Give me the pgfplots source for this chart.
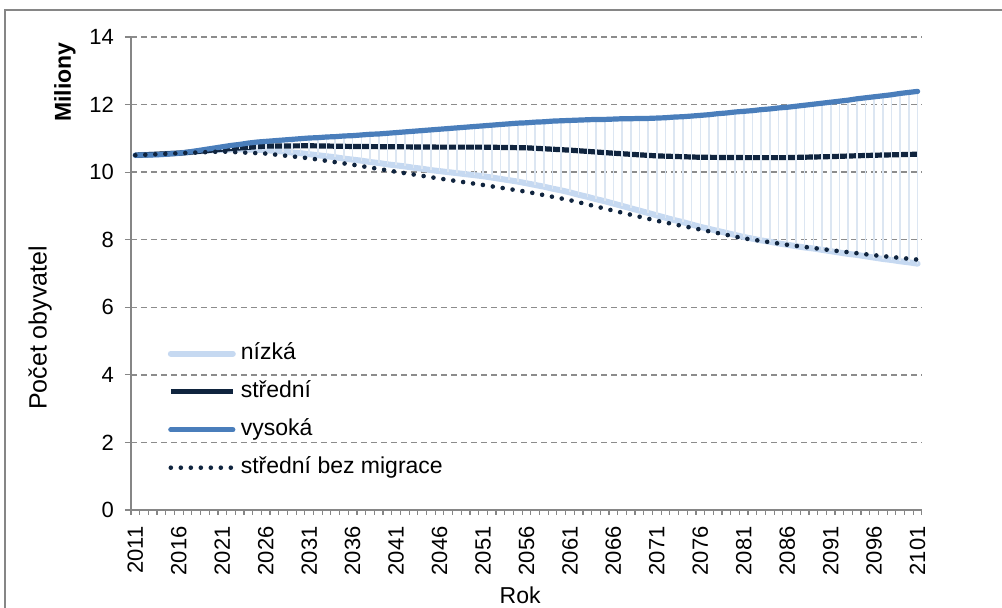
\documentclass[border=0pt]{standalone}
\usepackage{fontspec}
\setmainfont{Liberation Sans}
\usepackage{pgfplots}
\usepackage{pgfplotstable}
\pgfplotsset{compat=1.18}

\definecolor{nizka}{HTML}{C6D9F1}
\definecolor{stredni}{HTML}{10243E}
\definecolor{vysoka}{HTML}{4A7EBB}
\definecolor{hilo}{HTML}{DCE6F2}
\definecolor{axisgray}{HTML}{868686}
\definecolor{gridgray}{HTML}{8C8C8C}

% nízká / vysoká, every year (needed for the high-low lines)
\pgfplotstableread{
year low high
2011 10.50 10.50
2012 10.51 10.51
2013 10.52 10.51
2014 10.53 10.52
2015 10.55 10.54
2016 10.56 10.56
2017 10.58 10.59
2018 10.61 10.63
2019 10.63 10.67
2020 10.65 10.71
2021 10.66 10.75
2022 10.67 10.79
2023 10.67 10.82
2024 10.67 10.86
2025 10.66 10.89
2026 10.65 10.91
2027 10.63 10.93
2028 10.61 10.95
2029 10.58 10.97
2030 10.56 10.99
2031 10.53 11.01
2032 10.50 11.02
2033 10.47 11.04
2034 10.44 11.05
2035 10.40 11.07
2036 10.37 11.08
2037 10.34 11.10
2038 10.30 11.12
2039 10.27 11.13
2040 10.23 11.15
2041 10.20 11.17
2042 10.17 11.19
2043 10.13 11.21
2044 10.10 11.23
2045 10.06 11.25
2046 10.03 11.27
2047 10.00 11.29
2048 9.97 11.31
2049 9.94 11.33
2050 9.91 11.35
2051 9.88 11.37
2052 9.84 11.39
2053 9.80 11.41
2054 9.76 11.43
2055 9.72 11.45
2056 9.67 11.46
2057 9.62 11.48
2058 9.57 11.49
2059 9.51 11.51
2060 9.46 11.52
2061 9.40 11.53
2062 9.33 11.54
2063 9.27 11.55
2064 9.20 11.56
2065 9.14 11.56
2066 9.07 11.57
2067 9.00 11.58
2068 8.93 11.58
2069 8.86 11.59
2070 8.79 11.59
2071 8.72 11.60
2072 8.65 11.61
2073 8.58 11.63
2074 8.52 11.64
2075 8.45 11.66
2076 8.38 11.68
2077 8.32 11.70
2078 8.26 11.73
2079 8.20 11.75
2080 8.14 11.78
2081 8.08 11.80
2082 8.03 11.82
2083 7.98 11.85
2084 7.94 11.87
2085 7.89 11.90
2086 7.85 11.92
2087 7.81 11.95
2088 7.77 11.98
2089 7.74 12.01
2090 7.70 12.04
2091 7.66 12.07
2092 7.62 12.10
2093 7.58 12.13
2094 7.55 12.17
2095 7.51 12.20
2096 7.47 12.23
2097 7.43 12.26
2098 7.40 12.29
2099 7.36 12.33
2100 7.33 12.36
2101 7.29 12.39
}\hilotab

% střední, střední bez migrace
\pgfplotstableread{
year mid nomig
2011 10.50 10.50
2016 10.56 10.56
2021 10.68 10.61
2026 10.77 10.55
2031 10.78 10.41
2036 10.76 10.22
2041 10.75 10.01
2046 10.74 9.81
2051 10.74 9.62
2056 10.72 9.42
2061 10.65 9.17
2066 10.56 8.86
2071 10.48 8.56
2076 10.44 8.30
2081 10.43 8.04
2086 10.43 7.85
2091 10.46 7.69
2096 10.50 7.54
2101 10.53 7.41
}\midtab

\begin{document}
\fontsize{11.5}{13.5}\selectfont
\begin{tikzpicture}
\begin{axis}[
  scale only axis, width=395.5pt, height=236.5pt,
  xmin=2010.5, xmax=2101.5, ymin=0, ymax=14,
  axis x line*=bottom, axis y line*=left,
  axis line style={axisgray, line width=0.75pt},
  xtick={2011,2016,...,2101},
  minor xtick={2010.5,2011.5,...,2101.5},
  ytick={0,2,...,14},
  tick align=outside,
  major tick length=3pt, minor tick length=2.5pt,
  tick style={axisgray, line width=0.6pt},
  major x tick style={draw=none},
  ymajorgrids, grid style={gridgray, line width=0.7pt, dash pattern=on 3pt off 2pt},
  /pgf/number format/assume math mode=true,
  /pgf/number format/1000 sep={},
  tick label style={font=\fontsize{11}{13}\selectfont},
  xticklabel style={rotate=90, anchor=east, inner xsep=5pt, inner ysep=0pt},
  yticklabel style={anchor=east, xshift=-1.5pt},
  xlabel={Rok}, ylabel={Počet obyvatel},
  every axis x label/.style={at={(axis description cs:0.492,0)}, yshift=-42.5pt, anchor=center},
  every axis y label/.style={at={(axis description cs:-0.115,0.385)}, rotate=90, anchor=center,
    font=\fontsize{12.5}{14}\selectfont},
  legend cell align=left,
  legend image code/.code={\draw[#1] (0pt,0pt) -- (31pt,0pt);},
  legend style={draw=none, fill=none, at={(axis cs:2014.0,5.2)}, anchor=north west,
    row sep=4pt, column sep=1.5pt,
    nodes={inner xsep=1pt, inner ysep=2pt, text height=8.5pt, text depth=2.5pt}},
  line join=round,
]
\addplot[nizka, line width=3pt, line cap=round] table[x=year, y=low]{\hilotab};
\addlegendentry{nízká}
\addplot[stredni, line width=2.6pt] table[x=year, y=mid]{\midtab};
\addlegendentry{střední}
\addplot[forget plot, draw=none, mark=none,
  error bars/.cd, y dir=plus, y explicit, error mark=none,
  error bar style={draw=hilo, line width=0.8pt}]
  table[x=year, y=low, y error expr=\thisrow{high}-\thisrow{low}]{\hilotab};
\addplot[vysoka, line width=2.6pt, line cap=round] table[x=year, y=high]{\hilotab};
\addlegendentry{vysoká}
\addplot[stredni, line width=2.3pt, line cap=round, dash pattern=on 0pt off 5pt] table[x=year, y=nomig]{\midtab};
\addlegendentry{střední bez migrace}
\end{axis}
\node[rotate=90, font=\bfseries] at (-33pt,214pt) {Miliony};
\draw[axisgray, line width=0.6pt] (-63pt,-60pt) -- (-63pt,250pt) -- (450pt,250pt);
\pgfresetboundingbox
\useasboundingbox (-65.5pt,-49pt) rectangle (435.5pt,255pt);
\end{tikzpicture}
\end{document}
